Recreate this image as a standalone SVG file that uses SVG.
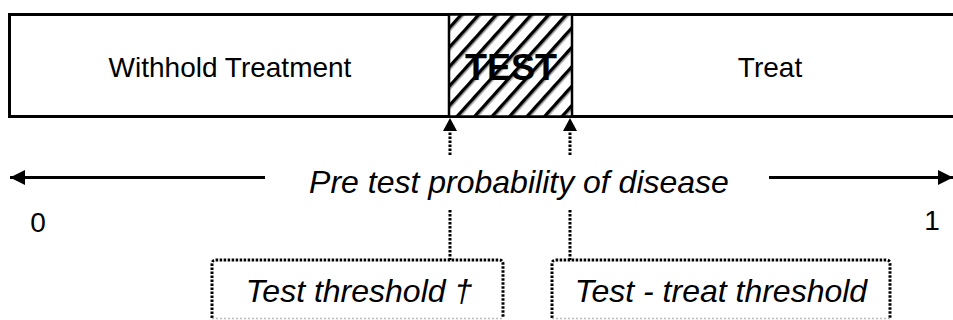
<svg xmlns="http://www.w3.org/2000/svg" width="953" height="320" viewBox="0 0 953 320">
<defs>
<style>
.lbl{font-family:"Liberation Sans",Arial,sans-serif;fill:#000;text-anchor:middle}
.it{font-style:italic;font-size:32px}
.big{font-size:28px}
.dot{fill:none;stroke:#000;stroke-width:3;stroke-dasharray:2.5 1.5}
.solid{fill:none;stroke:#000;stroke-width:3}
</style>
<pattern id="hatch" patternUnits="userSpaceOnUse" width="13" height="13" patternTransform="rotate(42)">
<rect width="13" height="13" fill="#fff"/>
<rect x="0" y="0" width="3" height="13" fill="#000"/>
<rect x="3" y="0" width="1.5" height="13" fill="#888"/>
</pattern>
<marker id="ah" viewBox="0 0 10 10" refX="10" refY="5" markerWidth="5" markerHeight="5" orient="auto" markerUnits="strokeWidth">
<path d="M0,0 L10,5 L0,10 z" fill="#000"/>
</marker>
</defs>
<g id="bar">
<path class="solid" d="M955,14.5 H9.5 V116.5 H955"/>
</g>
<g id="withhold">
<text class="lbl big" x="230" y="77">Withhold Treatment</text>
</g>
<g id="test">
<rect x="449" y="14.5" width="123" height="102" fill="url(#hatch)" stroke="#000" stroke-width="2.5"/>
<text class="lbl" x="511" y="80" font-size="36" font-weight="bold">TEST</text>
</g>
<g id="treat">
<text class="lbl big" x="770" y="77">Treat</text>
</g>
<g id="axis">
<text class="lbl it" x="519" y="193">Pre test probability of disease</text>
<text class="lbl big" x="38" y="232">0</text>
<text class="lbl big" x="932" y="230">1</text>
</g>
<g id="test-threshold">
<path class="dot" d="M212,318 V264 Q212,260 216,260 H499 Q503,260 503,264 V318"/>
<path fill="none" stroke="#bbb" stroke-width="1.5" stroke-dasharray="2 2" d="M212,318.5 H503"/>
<text class="lbl it" x="359" y="302">Test threshold †</text>
</g>
<g id="test-treat-threshold">
<path class="dot" d="M552,318 V264 Q552,260 556,260 H886 Q890,260 890,264 V318"/>
<path fill="none" stroke="#bbb" stroke-width="1.5" stroke-dasharray="2 2" d="M552,318.5 H890"/>
<text class="lbl it" x="721" y="302">Test - treat threshold</text>
</g>
<g id="connectors">
<line class="solid" x1="265" y1="177.5" x2="10" y2="177.5" marker-end="url(#ah)"/>
<line class="solid" x1="769" y1="177.5" x2="953" y2="177.5" marker-end="url(#ah)"/>
<line class="dot" x1="450" y1="155" x2="450" y2="130"/>
<path d="M450,118 L443,131 L457,131 z" fill="#000"/>
<line class="dot" x1="570" y1="155" x2="570" y2="130"/>
<path d="M570,118 L563,131 L577,131 z" fill="#000"/>
<line class="dot" x1="450" y1="210" x2="450" y2="260"/>
<line class="dot" x1="570" y1="210" x2="570" y2="260"/>
</g>
</svg>
